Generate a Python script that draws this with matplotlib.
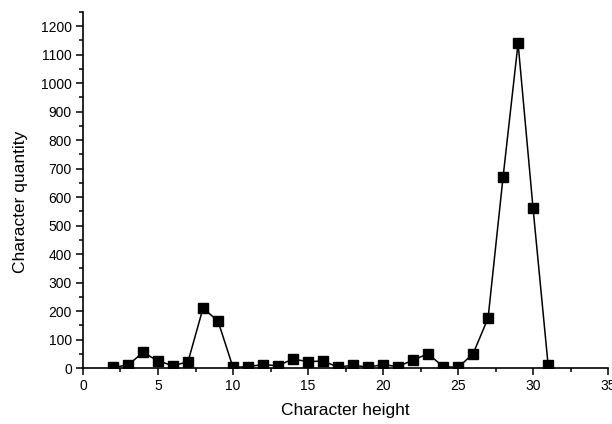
import matplotlib
matplotlib.use("Agg")
import matplotlib.pyplot as plt
from matplotlib.ticker import MultipleLocator

# character height vs number of characters
heights = [2, 3, 4, 5, 6, 7, 8, 9, 10, 11, 12, 13, 14, 15, 16,
           17, 18, 19, 20, 21, 22, 23, 24, 25, 26, 27, 28, 29, 30, 31]
quantities = [3, 10, 55, 25, 8, 22, 210, 165, 2, 5, 12, 8, 32, 22, 25,
              3, 10, 3, 12, 5, 28, 50, 5, 2, 50, 175, 670, 1140, 560, 12]

plt.rcParams["font.family"] = ["Liberation Sans", "DejaVu Sans"]

fig = plt.figure(figsize=(6.12, 4.24), dpi=100)
ax = fig.add_axes([0.1356, 0.132, 0.858, 0.840])

ax.plot(heights, quantities, color="black", linewidth=1.1,
        marker="s", markersize=6.5, markerfacecolor="black",
        markeredgecolor="black")

ax.set_xlim(0, 35)
ax.set_ylim(0, 1250)
ax.xaxis.set_major_locator(MultipleLocator(5))
ax.xaxis.set_minor_locator(MultipleLocator(2.5))
ax.yaxis.set_major_locator(MultipleLocator(100))
ax.yaxis.set_minor_locator(MultipleLocator(50))

ax.spines["top"].set_visible(False)
ax.spines["right"].set_visible(False)
for s in ("left", "bottom"):
    ax.spines[s].set_linewidth(1.2)
ax.tick_params(which="major", direction="out", length=5, width=1.1,
               labelsize=10, pad=3)
ax.tick_params(which="minor", direction="out", length=3, width=1.1)

ax.set_xlabel("Character height", fontsize=12.5, labelpad=7)
ax.set_ylabel("Character quantity", fontsize=12.5, labelpad=9)
ax.yaxis.label.set_y(0.466)

fig.savefig("out.png", dpi=100)
